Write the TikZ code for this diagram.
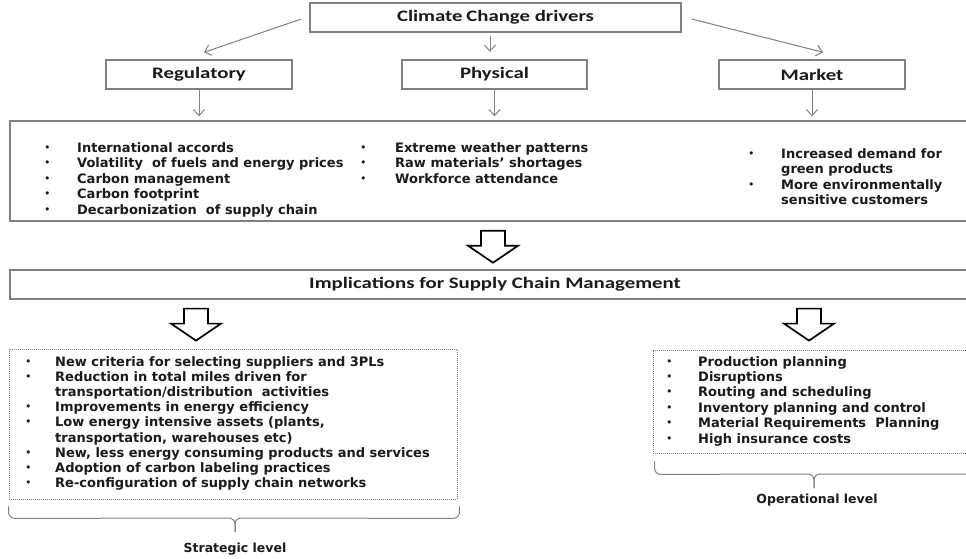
\documentclass[tikz,border=0pt]{standalone}
\usepackage{fontspec}
\usetikzlibrary{arrows.meta,calc}
\newfontfamily\hfont{Carlito}[FakeStretch=1.3]
\newfontfamily\bfont{DejaVu Sans}
\definecolor{boxgray}{HTML}{808080}
\definecolor{txt}{HTML}{1A1A1A}
\newcommand\blockarrow[1]{%
  \draw[barrow] (#1) ++(-12,0) -- ++(0,15) -- ++(-13,0) -- ++(25,17) -- ++(25,-17) -- ++(-13,0) -- ++(0,-15) -- cycle;}
\begin{document}
\begin{tikzpicture}[x=1pt,y=-1pt,
  hbox/.style={draw=boxgray, line width=1.4pt, minimum height=29pt, inner sep=0pt, text=txt,
    font=\hfont\bfseries\fontsize{16}{19}\selectfont},
  bigbox/.style={draw=boxgray, line width=1.4pt, inner sep=0pt},
  dotbox/.style={draw=boxgray, line width=0.8pt, dash pattern=on 1pt off 1pt, inner sep=0pt},
  thinarr/.style={draw=boxgray, line width=1pt, -{Straight Barb[length=6pt,width=11pt]}},
  barrow/.style={draw=black, line width=1.7pt, fill=white, line join=miter},
  btxt/.style={anchor=base west, inner sep=0pt, text=txt, font=\bfont\bfseries\fontsize{13}{15}\selectfont},
  bdot/.style={anchor=base west, inner sep=0pt, text=txt, font=\bfont\fontsize{11}{12}\selectfont},
  lvl/.style={inner sep=0pt, text=txt, font=\bfont\bfseries\fontsize{12.5}{15}\selectfont},
  brace/.style={draw=boxgray, line width=1pt, rounded corners=6pt}]
\useasboundingbox (0,0) rectangle (966,558);

% boxes
\node[hbox, minimum width=371pt] (climate) at (495.5,17.5) {Climate\kern-1pt\ Change drivers};
\node[hbox, minimum width=186pt] (reg) at (199,74.5) {Regulatory};
\node[hbox, minimum width=185pt] (phys) at (494.5,74.5) {Physical};
\node[hbox, minimum width=186pt] (market) at (812,74.5) {Market};
\node[bigbox, minimum width=970pt, minimum height=100pt] (drv) at (495,171) {};
\node[hbox, minimum width=970pt] (impl) at (495,284.5) {Implications for Supply Chain Management};
\node[dotbox, minimum width=448pt, minimum height=150pt] (strat) at (233,424) {};
\node[dotbox, minimum width=327pt, minimum height=103pt] (oper) at (816.5,401.5) {};

% thin arrows
\draw[thinarr] ($(climate.west)+(-8,1.5)$) -- ($(reg.north)+(5,-7)$);
\draw[thinarr] ($(climate.south)+(-5.5,3)$) -- ($(phys.north)+(-4.5,-7.5)$);
\draw[thinarr] ($(climate.east)+(10,1.5)$) -- ($(market.north)+(11,-7)$);
\draw[thinarr] (reg.south) -- ($(reg.south |- drv.north)+(0,-4)$);
\draw[thinarr] (phys.south) -- ($(phys.south |- drv.north)+(0,-4)$);
\draw[thinarr] (market.south) -- ($(market.south |- drv.north)+(0,-4)$);

% block arrows
\coordinate (ba1) at ($(drv.south)+(-2,9)$);
\coordinate (ba2) at ($(strat.north)+(-37,-40)$);
\coordinate (ba3) at ($(oper.north)+(-7.5,-41)$);
\blockarrow{ba1}
\blockarrow{ba2}
\blockarrow{ba3}

% drivers text: regulatory column
\foreach \t [count=\i from 0] in {International accords,Volatility\ \ of fuels and energy prices,Carbon management,Carbon footprint,Decarbonization\ \ of supply chain}{
  \node[bdot] (ra\i) at (44,151+15.5*\i) {•};
  \node[btxt] (rt\i) at (77,152+15.5*\i) {\t};
}
% physical column
\foreach \t [count=\i from 0] in {Extreme weather patterns,Raw materials’ shortages,Workforce attendance}{
  \node[bdot] (pa\i) at (360,151+15.5*\i) {•};
  \node[btxt] (pt\i) at (395,152+15.5*\i) {\t};
}
% market column
\node[bdot] (ma0) at (748,157) {•};
\node[btxt] (mt0) at (781,158) {Increased demand for};
\node[btxt] (mt1) at (781,173.5) {green products};
\node[bdot] (ma2) at (748,188) {•};
\node[btxt] (mt2) at (781,189) {More environmentally};
\node[btxt] (mt3) at (781,204.5) {sensitive customers};

% strategic
\foreach \i in {0,1,3,4,6,7,8}{
  \node[bdot] (sa\i) at (25,365+15.2*\i) {•};
}
\node[btxt] (st0) at (55,366) {New criteria for selecting suppliers and 3PLs};
\node[btxt] (st1) at (55,381.2) {Reduction in total miles driven for};
\node[btxt] (st2) at (55,396.4) {transportation/distribution\ \ activities};
\node[btxt] (st3) at (55,411.6) {Improvements in energy efficiency};
\node[btxt] (st4) at (55,426.8) {Low energy intensive assets (plants,};
\node[btxt] (st5) at (55,442) {transportation, warehouses etc)};
\node[btxt] (st6) at (55,457.2) {New, less energy consuming products and services};
\node[btxt] (st7) at (55,472.4) {Adoption of carbon labeling practices};
\node[btxt] (st8) at (55,487.6) {Re-configuration of supply chain networks};

% operational
\foreach \t [count=\i from 0] in {Production planning,Disruptions,Routing and scheduling,Inventory planning and control,Material Requirements\ \ Planning,High insurance costs}{
  \node[bdot] (oa\i) at (666,365+15.4*\i) {•};
  \node[btxt] (ot\i) at (698,366+15.4*\i) {\t};
}

% braces
\coordinate (sbl) at ($(strat.south west)+(0,7)$);
\coordinate (sbr) at ($(strat.south east)+(2,7)$);
\coordinate (sbt) at (235,532);
\draw[brace] (sbl) -- ($(sbl)+(0,12)$) -- ($(sbt)+(0,-14)$) -- (sbt);
\draw[brace] (sbr) -- ($(sbr)+(0,12)$) -- ($(sbt)+(0,-14)$) -- (sbt);
\node[lvl] (slab) at (235,549) {Strategic level};

\coordinate (obl) at ($(oper.south west)+(2,8)$);
\coordinate (obr) at (990,461);
\coordinate (obt) at (814,488);
\draw[brace] (obl) -- ($(obl)+(0,13)$) -- ($(obt)+(0,-14)$) -- (obt);
\draw[brace] (obr) -- ($(obr)+(0,13)$) -- ($(obt)+(0,-14)$) -- (obt);
\node[lvl] (olab) at (817,500) {Operational level};
\end{tikzpicture}
\end{document}
